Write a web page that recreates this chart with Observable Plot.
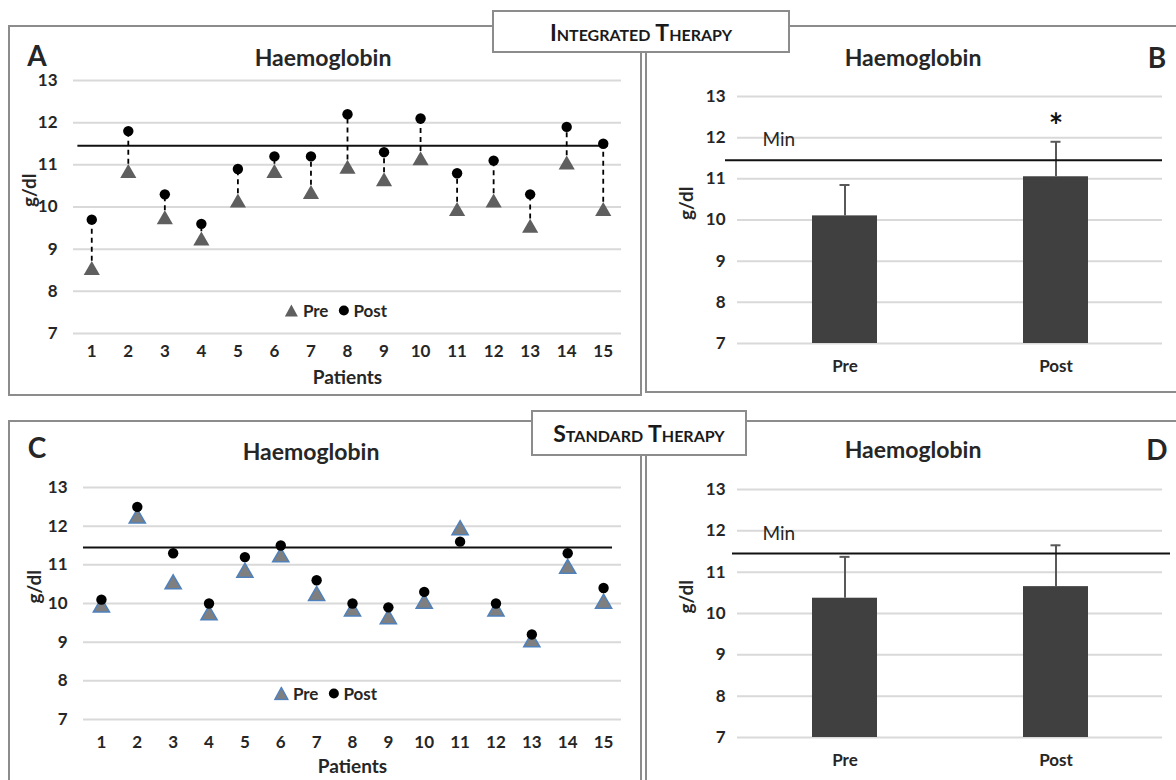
<!DOCTYPE html>
<html>
<head>
<meta charset="utf-8">
<script src="https://cdn.jsdelivr.net/npm/d3@7"></script>
<script src="https://cdn.jsdelivr.net/npm/@observablehq/plot@0.6"></script>
<style>
  body { margin: 0; background: #fff; font-family: Lato, "Open Sans", sans-serif; color: #262626; }
  #root { position: relative; width: 1176px; height: 780px; overflow: hidden; background: #fff; }
  .box { position: absolute; border: 2px solid #8c8c8c; box-sizing: border-box; }
  .title { position: absolute; font-weight: bold; font-size: 23px; transform: translate(-50%, -50%); white-space: nowrap; }
  .letter { position: absolute; font-weight: bold; font-size: 28px; transform: translate(-50%, -50%); }
  .tag { position: absolute; border: 2px solid #8c8c8c; box-sizing: border-box; background: #fff;
         display: flex; align-items: center; justify-content: center; font-variant: small-caps;
         font-weight: bold; font-size: 23px; color: #1a1a1a; z-index: 5; }
  .legend { position: absolute; display: flex; align-items: center; gap: 4px; font-weight: bold; font-size: 17px; transform: translate(-50%, -50%); white-space: nowrap; }
  .legend span { margin-right: 5px; }
  svg.plot { position: absolute; }
</style>
</head>
<body>
<div id="root"></div>
<script>
// ---------- data ----------
const patients = [1, 2, 3, 4, 5, 6, 7, 8, 9, 10, 11, 12, 13, 14, 15];
const yTicks = [7, 8, 9, 10, 11, 12, 13];
const yDomain = [7, 13];
const minHb = 11.45;

// Integrated therapy (panel A)
const intPre  = [8.5, 10.8, 9.7, 9.2, 10.1, 10.8, 10.3, 10.9, 10.6, 11.1, 9.9, 10.1, 9.5, 11.0, 9.9];
const intPost = [9.7, 11.8, 10.3, 9.6, 10.9, 11.2, 11.2, 12.2, 11.3, 12.1, 10.8, 11.1, 10.3, 11.9, 11.5];

// Standard therapy (panel C)
const stdPre  = [9.9, 12.2, 10.5, 9.7, 10.8, 11.2, 10.2, 9.8, 9.6, 10.0, 11.9, 9.8, 9.0, 10.9, 10.0];
const stdPost = [10.1, 12.5, 11.3, 10.0, 11.2, 11.5, 10.6, 10.0, 9.9, 10.3, 11.6, 10.0, 9.2, 11.3, 10.4];

// Bar panels (B, D)
const groups = ["Pre", "Post"];
const intMean  = [10.1, 11.05];
const intUpper = [10.85, 11.9];
const intSig   = ["", "*"];
const stdMean  = [10.37, 10.65];
const stdUpper = [11.37, 11.65];
const stdSig   = ["", ""];

// ---------- layout helpers ----------
const root = document.getElementById("root");
function addDiv(cls, css, html) {
  const d = document.createElement("div");
  d.className = cls;
  Object.assign(d.style, css);
  if (html != null) d.innerHTML = html;
  root.appendChild(d);
  return d;
}
function place(svg, left, top) {
  svg.classList.add("plot");
  svg.style.left = left + "px";
  svg.style.top = top + "px";
  root.appendChild(svg);
}

// panel frames
addDiv("box", {left: "8px", top: "25px", width: "634px", height: "371px"});
addDiv("box", {left: "645px", top: "25px", width: "560px", height: "368px"});
addDiv("box", {left: "8px", top: "420px", width: "634px", height: "420px"});
addDiv("box", {left: "645px", top: "420px", width: "560px", height: "420px"});

const baseStyle = {fontFamily: "Lato, 'Open Sans', sans-serif", fontSize: "17px", fontWeight: "bold",
                   color: "#262626", background: "transparent", overflow: "visible"};

function scatter({pre, post, width, height, mt, mb, ml, mr, triFill, triStroke, connect, minX1, minX2, patDy, glDx, xPad}) {
  const rows = patients.map((p, i) => ({patient: p, pre: pre[i], post: post[i]}));
  return Plot.plot({
    width, height, marginTop: mt, marginBottom: mb, marginLeft: ml, marginRight: mr,
    style: baseStyle,
    x: {domain: [0.5, 15.5]},
    y: {domain: yDomain},
    marks: [
      Plot.ruleY(yTicks, {stroke: "#d9d9d9", strokeWidth: 2}),
      Plot.axisY(yTicks, {tickSize: 0, tickPadding: 16, label: null, fontSize: 17}),
      Plot.axisX(patients, {tickSize: 0, tickPadding: xPad, label: null, fontSize: 17}),
      Plot.ruleY([minHb], {x1: minX1, x2: minX2, stroke: "#111", strokeWidth: 2}),
      connect ? Plot.ruleX(rows, {x: "patient", y1: "pre", y2: "post", stroke: "#000", strokeWidth: 1.8, strokeDasharray: "5,4"}) : null,
      Plot.dot(rows, {x: "patient", y: "pre", symbol: "triangle", r: 6, fill: triFill, stroke: triStroke, strokeWidth: triStroke ? 1.5 : 0}),
      Plot.dot(rows, {x: "patient", y: "post", symbol: "circle", r: 5.2, fill: "#000"}),
      Plot.text(["Patients"], {text: d => d, frameAnchor: "bottom", dy: patDy, fontSize: 19}),
      Plot.text(["g/dl"], {text: d => d, frameAnchor: "left", dx: glDx, rotate: -90, fontSize: 19})
    ]
  });
}

function bars({mean, upper, sig, width, height, mt, mb, ml, mr, minInsetL, minInsetR, minDx, minDy}) {
  const rows = groups.map((g, i) => ({group: g, mean: mean[i], upper: upper[i], sig: sig[i]}));
  return Plot.plot({
    width, height, marginTop: mt, marginBottom: mb, marginLeft: ml, marginRight: mr,
    style: baseStyle,
    x: {type: "band", domain: groups, paddingInner: 0.693, paddingOuter: 0.349},
    y: {domain: yDomain},
    marks: [
      Plot.ruleY(yTicks, {stroke: "#d9d9d9", strokeWidth: 2}),
      Plot.axisY(yTicks, {tickSize: 0, tickPadding: 12, label: null, fontSize: 17}),
      Plot.axisX({tickSize: 0, tickPadding: 16, label: null, fontSize: 17}),
      Plot.barY(rows, {x: "group", y1: yDomain[0], y2: "mean", fill: "#404040"}),
      Plot.ruleX(rows, {x: "group", y1: "mean", y2: "upper", stroke: "#595959", strokeWidth: 2}),
      Plot.tickY(rows, {x: "group", y: "upper", stroke: "#595959", strokeWidth: 2, insetLeft: 27.5, insetRight: 27.5}),
      Plot.ruleY([minHb], {stroke: "#111", strokeWidth: 2, insetLeft: minInsetL, insetRight: minInsetR}),
      Plot.text([minHb], {y: d => d, text: () => "Min", frameAnchor: "left", textAnchor: "start", dx: minDx, dy: minDy, fontSize: 19, fontWeight: "normal"}),
      Plot.text(rows.filter(d => d.sig), {x: "group", y: "upper", text: "sig", dy: -15, fontSize: 34, fontWeight: "bold", fill: "#111"}),
      Plot.text(["g/dl"], {text: d => d, frameAnchor: "left", dx: -51, rotate: -90, fontSize: 19})
    ]
  });
}

// Panel A
place(scatter({pre: intPre, post: intPost, width: 632, height: 370, mt: 55, mb: 62, ml: 65, mr: 19,
  triFill: "#5f5f5f", triStroke: null, connect: true, minX1: 0.62, minX2: 15.14, patDy: 50, glDx: -44, xPad: 11}), 8, 25);
// Panel B
place(bars({mean: intMean, upper: intUpper, sig: intSig, width: 530, height: 367, mt: 71, mb: 49, ml: 91, mr: 14,
  minInsetL: -12, minInsetR: 0, minDx: 25, minDy: -20}), 646, 25);
// Panel C
place(scatter({pre: stdPre, post: stdPost, width: 632, height: 360, mt: 67, mb: 61, ml: 75, mr: 19,
  triFill: "#7f7f7f", triStroke: "#4f81bd", connect: false, minX1: 0.5, minX2: 15.25, patDy: 53, glDx: -49, xPad: 16}), 8, 420);
// Panel D
place(bars({mean: stdMean, upper: stdUpper, sig: stdSig, width: 530, height: 360, mt: 69, mb: 43, ml: 91, mr: 14,
  minInsetL: -5, minInsetR: -8, minDx: 25, minDy: -20}), 646, 420);

// titles and panel letters
addDiv("title", {left: "323px", top: "57px"}, "Haemoglobin");
addDiv("title", {left: "913px", top: "57px"}, "Haemoglobin");
addDiv("title", {left: "311px", top: "451px"}, "Haemoglobin");
addDiv("title", {left: "913px", top: "449px"}, "Haemoglobin");
addDiv("letter", {left: "37px", top: "55px"}, "A");
addDiv("letter", {left: "1157px", top: "57px"}, "B");
addDiv("letter", {left: "37px", top: "447px"}, "C");
addDiv("letter", {left: "1157px", top: "449px"}, "D");

// legends
const triSvg = (fill, stroke) => `<svg width="15" height="14" viewBox="0 0 15 14"><path d="M7.5,1 L14,13 L1,13Z" fill="${fill}" ${stroke ? `stroke="${stroke}" stroke-width="1.5"` : ""}/></svg>`;
const dotSvg = `<svg width="12" height="12" viewBox="0 0 12 12"><circle cx="6" cy="6" r="5" fill="#000"/></svg>`;
addDiv("legend", {left: "338px", top: "310px"}, `${triSvg("#5f5f5f")}<span>Pre</span>${dotSvg}<span>Post</span>`);
addDiv("legend", {left: "328px", top: "693px"}, `${triSvg("#7f7f7f", "#4f81bd")}<span>Pre</span>${dotSvg}<span>Post</span>`);

// group tags
addDiv("tag", {left: "492px", top: "10px", width: "298px", height: "43px"}, "Integrated Therapy");
addDiv("tag", {left: "531px", top: "410px", width: "216px", height: "46px"}, "Standard Therapy");
</script>
</body>
</html>
